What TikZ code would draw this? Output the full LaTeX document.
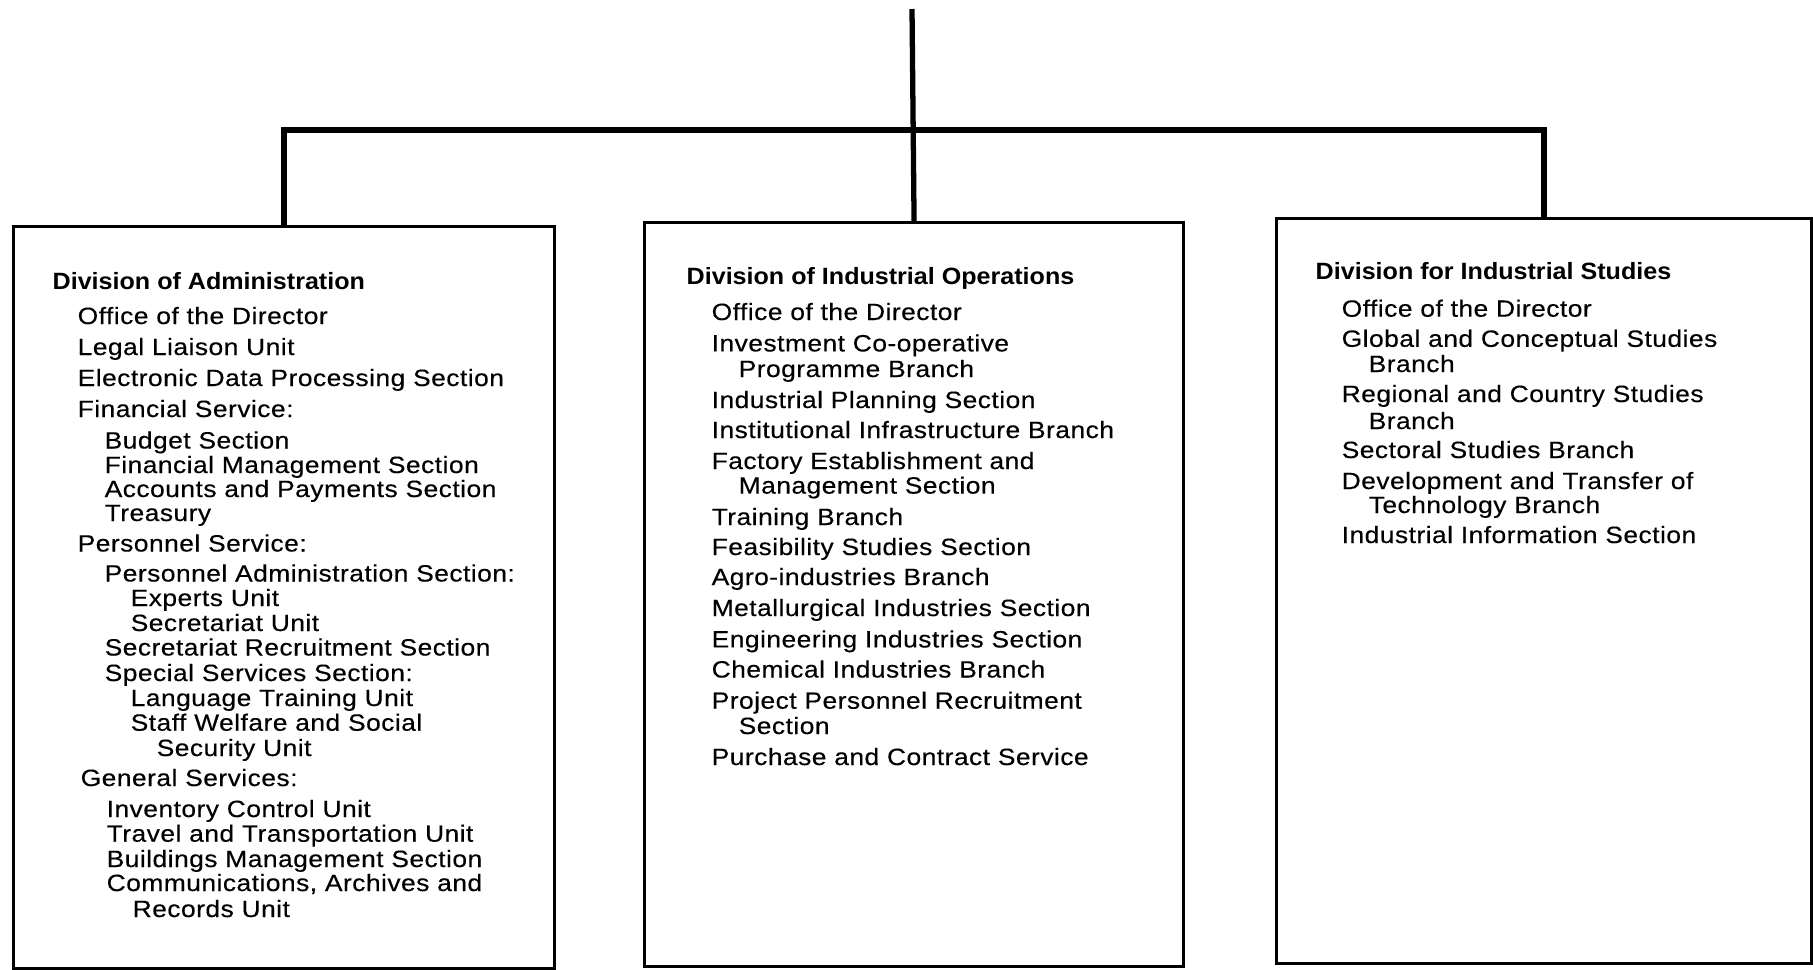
\documentclass[tikz,border=0pt]{standalone}
\usepackage{fontspec}
\setmainfont{Liberation Sans}
\newfontfamily\unitfont[FakeStretch=1.12,LetterSpace=2,FakeBold=0.3]{Liberation Sans}
\newfontfamily\divfont[FakeStretch=1.065]{Liberation Sans}
\usetikzlibrary{positioning}
\tikzset{
	divbox/.style={draw, line width=0.8pt, inner sep=0pt, anchor=north west},
	link/.style={line width=1.5pt},
	divhead/.style={font=\fontsize{6.7}{8}\divfont\bfseries, anchor=base west, inner sep=0pt},
	unit/.style={font=\fontsize{6.7}{8}\unitfont, anchor=base west, inner sep=0pt}
}

\begin{document}
\begin{tikzpicture}[x=0.01cm,y=-0.01cm]
		%%%%% START %%%%%
		\useasboundingbox (0,0) rectangle (1813,969);
		
		\node[divbox, minimum width=5.41cm, minimum height=7.42cm] (admin) at (12,225) {};
		\node[divbox, minimum width=5.39cm, minimum height=7.44cm] (ops) at (643,221) {};
		\node[divbox, minimum width=5.35cm, minimum height=7.45cm] (studies) at (1275,217) {};
		
		\coordinate (top) at (912,9);
		\coordinate (bus) at (912,130);
		\draw[link] (top) -- (ops.north);
		\draw[link] (admin.north) |- (bus) -| (studies.north);
		
		% administration
		\node[divhead] (a0) at (52,289) {Division of Administration};
		\node[unit] (a1) at (77,324) {Office of the Director};
		\node[unit] (a2) at (77,355) {Legal Liaison Unit};
		\node[unit] (a3) at (77,386) {Electronic Data Processing Section};
		\node[unit] (a4) at (77,417) {Financial Service:};
		\node[unit] (a5) at (104,448.5) {Budget Section};
		\node[unit] (a6) at (104,473) {Financial Management Section};
		\node[unit] (a7) at (104,497) {Accounts and Payments Section};
		\node[unit] (a8) at (104,521) {Treasury};
		\node[unit] (a9) at (77,551.5) {Personnel Service:};
		\node[unit] (a10) at (104,581.5) {Personnel Administration Section:};
		\node[unit] (a11) at (130,606) {Experts Unit};
		\node[unit] (a12) at (130,631) {Secretariat Unit};
		\node[unit] (a13) at (104,655.5) {Secretariat Recruitment Section};
		\node[unit] (a14) at (104,681) {Special Services Section:};
		\node[unit] (a15) at (130,706) {Language Training Unit};
		\node[unit] (a16) at (130,730.7) {Staff Welfare and Social};
		\node[unit] (a17) at (156,756) {Security Unit};
		\node[unit] (a18) at (80,786) {General Services:};
		\node[unit] (a19) at (106,817) {Inventory Control Unit};
		\node[unit] (a20) at (106,841.7) {Travel and Transportation Unit};
		\node[unit] (a21) at (106,867) {Buildings Management Section};
		\node[unit] (a22) at (106,891) {Communications, Archives and};
		\node[unit] (a23) at (132,917) {Records Unit};
		
		% industrial operations
		\node[divhead] (o0) at (686,284) {Division of Industrial Operations};
		\node[unit] (o1) at (711,320) {Office of the Director};
		\node[unit] (o2) at (711,351.4) {Investment Co-operative};
		\node[unit] (o3) at (738,377) {Programme Branch};
		\node[unit] (o4) at (711,408) {Industrial Planning Section};
		\node[unit] (o5) at (711,438) {Institutional Infrastructure Branch};
		\node[unit] (o6) at (711,469) {Factory Establishment and};
		\node[unit] (o7) at (738,493.6) {Management Section};
		\node[unit] (o8) at (711,525) {Training Branch};
		\node[unit] (o9) at (711,555) {Feasibility Studies Section};
		\node[unit] (o10) at (711,585) {Agro-industries Branch};
		\node[unit] (o11) at (711,616) {Metallurgical Industries Section};
		\node[unit] (o12) at (711,647.4) {Engineering Industries Section};
		\node[unit] (o13) at (711,677.5) {Chemical Industries Branch};
		\node[unit] (o14) at (711,708.7) {Project Personnel Recruitment};
		\node[unit] (o15) at (738,734) {Section};
		\node[unit] (o16) at (711,765) {Purchase and Contract Service};
		
		% industrial studies
		\node[divhead] (s0) at (1315,279.7) {Division for Industrial Studies};
		\node[unit] (s1) at (1341,316.7) {Office of the Director};
		\node[unit] (s2) at (1341,346.8) {Global and Conceptual Studies};
		\node[unit] (s3) at (1368,372) {Branch};
		\node[unit] (s4) at (1341,402) {Regional and Country Studies};
		\node[unit] (s5) at (1368,429) {Branch};
		\node[unit] (s6) at (1341,458) {Sectoral Studies Branch};
		\node[unit] (s7) at (1341,489) {Development and Transfer of};
		\node[unit] (s8) at (1368,513) {Technology Branch};
		\node[unit] (s9) at (1341,543) {Industrial Information Section};
		
		%%%%% END %%%%%
	\end{tikzpicture}
\end{document}
